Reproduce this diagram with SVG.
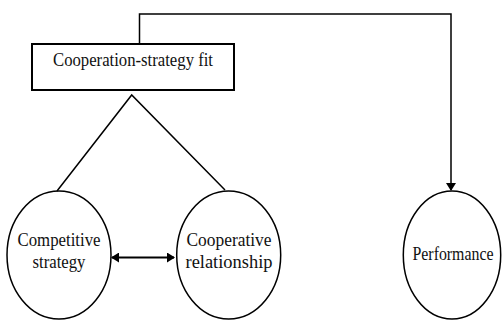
<svg xmlns="http://www.w3.org/2000/svg" width="503" height="320" viewBox="0 0 503 320">
<defs>
<style>
.n{fill:none;stroke:#000;stroke-width:1.5}
.t{font-size:19px;fill:#111;text-anchor:middle}
.c{fill:none;stroke:#000;stroke-width:1.5}
</style>
<marker id="ah" markerWidth="8" markerHeight="10" refX="7" refY="5" orient="auto-start-reverse" markerUnits="userSpaceOnUse"><path d="M0,0 L8,5 L0,10 Z" fill="#000"/></marker>
</defs>
<rect width="503" height="320" fill="#fff"/>
<g id="connectors">
<path class="c" d="M139.5,44 V14 H451 V190" marker-end="url(#ah)"/>
<path class="c" d="M57,191 L131.7,95 L225,190"/>
<path class="c" style="stroke-width:2" d="M112,257.5 H174" marker-start="url(#ah)" marker-end="url(#ah)"/>
</g>
<g font-family="Liberation Serif, Times New Roman, serif">
<g id="fit">
<rect class="n" x="32" y="44" width="202" height="46" style="stroke-width:2"/>
<text class="t" x="133" y="65.5" textLength="160" lengthAdjust="spacingAndGlyphs">Cooperation-strategy fit</text>
</g>
<g id="competitive">
<ellipse class="n" cx="59" cy="255" rx="52" ry="64"/>
<text class="t" x="59" y="245.5" textLength="83" lengthAdjust="spacingAndGlyphs">Competitive</text>
<text class="t" x="59" y="268" textLength="53" lengthAdjust="spacingAndGlyphs">strategy</text>
</g>
<g id="cooperative">
<ellipse class="n" cx="228.7" cy="255" rx="52" ry="64"/>
<text class="t" x="229" y="245.5" textLength="85" lengthAdjust="spacingAndGlyphs">Cooperative</text>
<text class="t" x="229" y="268" textLength="87" lengthAdjust="spacingAndGlyphs">relationship</text>
</g>
<g id="performance">
<ellipse class="n" cx="452" cy="255" rx="48.7" ry="64"/>
<text class="t" x="453" y="260" textLength="81" lengthAdjust="spacingAndGlyphs">Performance</text>
</g>
</g>
</svg>
